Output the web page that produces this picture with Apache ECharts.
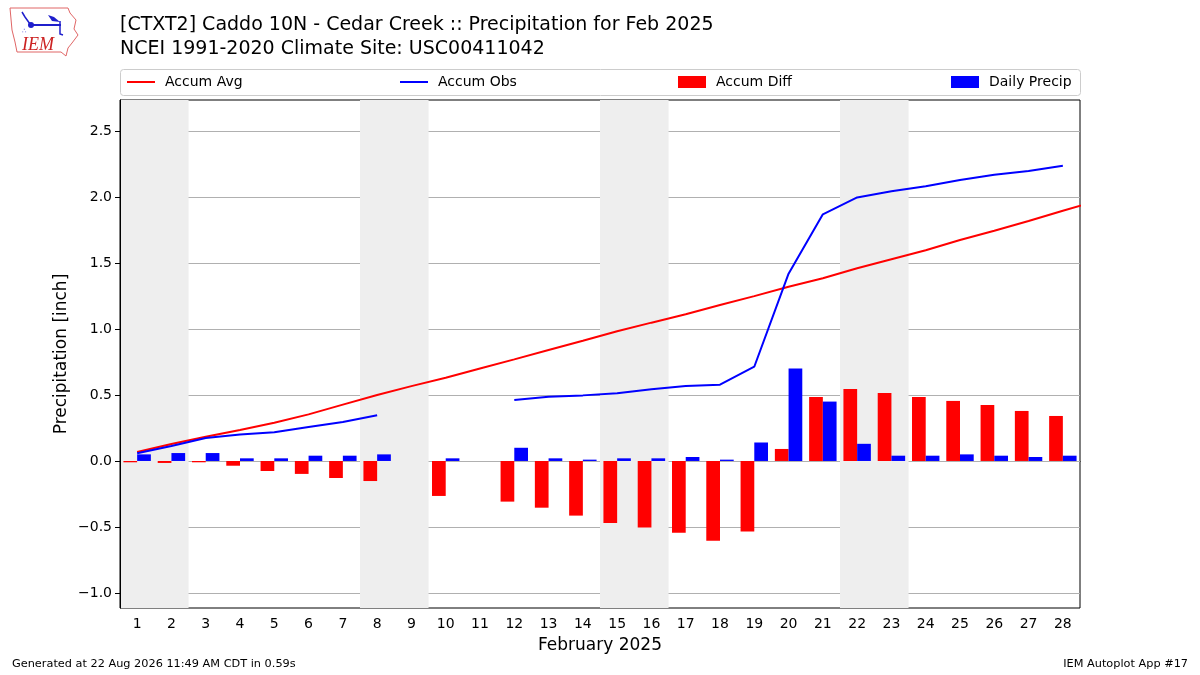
<!DOCTYPE html>
<html>
<head>
<meta charset="utf-8">
<script src="https://cdn.jsdelivr.net/npm/echarts@6/dist/echarts.min.js"></script>
<style>
  html, body { margin: 0; padding: 0; background: #fff; }
  #chart { width: 1200px; height: 675px; }
</style>
</head>
<body>
<div id="chart"></div>
<script>
// 日期 (Feb 2025)
var days = ['1','2','3','4','5','6','7','8','9','10','11','12','13','14',
            '15','16','17','18','19','20','21','22','23','24','25','26','27','28'];
// climatology accumulation, runs one day past the axis (day 29)
var accumAvg = [0.068, 0.129, 0.184, 0.235, 0.290, 0.353, 0.427, 0.500, 0.567, 0.630,
                0.700, 0.770, 0.841, 0.911, 0.983, 1.048, 1.111, 1.182, 1.249, 1.320,
                1.384, 1.460, 1.528, 1.596, 1.674, 1.745, 1.818, 1.896, 1.972];
var accumObs = [0.058, 0.114, 0.174, 0.200, 0.217, 0.257, 0.295, 0.346, null, null,
                null, 0.462, 0.487, 0.497, 0.513, 0.543, 0.568, 0.578, 0.714, 1.419,
                1.869, 1.997, 2.043, 2.081, 2.129, 2.169, 2.197, 2.237];
var accumDiff = [-0.010, -0.015, -0.010, -0.036, -0.076, -0.098, -0.129, -0.152, null, -0.265,
                 null, -0.308, -0.354, -0.414, -0.470, -0.505, -0.543, -0.604, -0.535, 0.091,
                 0.485, 0.545, 0.515, 0.485, 0.455, 0.424, 0.379, 0.341];
var dailyPrecip = [0.05, 0.06, 0.06, 0.02, 0.02, 0.04, 0.04, 0.05, null, 0.02,
                   null, 0.10, 0.02, 0.01, 0.02, 0.02, 0.03, 0.01, 0.14, 0.70,
                   0.45, 0.13, 0.04, 0.04, 0.05, 0.04, 0.03, 0.04];
var weekendDays = [1, 2, 8, 9, 15, 16, 22, 23];
var yTicks = [-1.0, -0.5, 0.0, 0.5, 1.0, 1.5, 2.0, 2.5];

var font = 'DejaVu Sans';

// 周末灰色区域
var weekendAreas = [];
for (var i = 0; i < weekendDays.length; i += 2) {
    weekendAreas.push([{ xAxis: weekendDays[i] - 0.5 }, { xAxis: weekendDays[i + 1] + 0.5 }]);
}

function toPairs(arr) {
    return arr.map(function(v, idx) {
        return [idx + 1, v === null ? '-' : v];
    });
}

function makeLegend(name, left, h) {
    return {
        left: left, top: 75, orient: 'horizontal', padding: 0,
        data: [{ name: name, icon: 'rect' }],
        itemWidth: 28, itemHeight: h,
        textStyle: { fontFamily: font, fontSize: 14, color: '#000', padding: [0, 0, 0, 5] },
        selectedMode: false
    };
}

var option = {
    animation: false,
    backgroundColor: '#fff',
    title: {
        text: '[CTXT2] Caddo 10N - Cedar Creek :: Precipitation for Feb 2025\nNCEI 1991-2020 Climate Site: USC00411042',
        left: 120, top: 13, padding: 0,
        textStyle: { fontFamily: font, fontSize: 19, fontWeight: 'normal', color: '#000', lineHeight: 24 }
    },
    legend: [
        makeLegend('Accum Avg', 127, 2),
        makeLegend('Accum Obs', 400, 2),
        makeLegend('Accum Diff', 678, 12),
        makeLegend('Daily Precip', 951, 12)
    ],
    grid: {
        left: 120, right: 120, top: 100, bottom: 67,
        show: true, borderColor: '#000', borderWidth: 1, backgroundColor: 'transparent'
    },
    xAxis: [{
        type: 'category',
        data: days,
        name: 'February 2025',
        nameLocation: 'middle',
        nameGap: 29,
        nameTextStyle: { fontFamily: font, fontSize: 17, color: '#000' },
        axisLine: { lineStyle: { color: '#000', width: 1 } },
        axisTick: { alignWithLabel: true, length: 5, lineStyle: { color: '#000' } },
        axisLabel: { fontFamily: font, fontSize: 14, color: '#000', margin: 9, interval: 0 },
        splitLine: { show: false }
    }, {
        type: 'value',
        min: 0.5, max: 28.5,
        show: false
    }],
    yAxis: {
        type: 'value',
        min: -1.114, max: 2.735,
        splitNumber: 8,
        z: 1,
        name: 'Precipitation [inch]',
        nameLocation: 'middle',
        nameGap: 50,
        nameMoveOverlap: false,
        nameTextStyle: { fontFamily: font, fontSize: 17, color: '#000' },
        axisLine: { show: true, lineStyle: { color: '#000', width: 1 } },
        axisTick: { show: true, length: 5, lineStyle: { color: '#000' }, customValues: yTicks },
        axisLabel: {
            fontFamily: font, fontSize: 14, color: '#000', margin: 8,
            customValues: yTicks,
            formatter: function(v) {
                var s = Math.abs(v).toFixed(1);
                return v < 0 ? '\u2212' + s : s;
            }
        },
        splitLine: { show: true, lineStyle: { color: '#b0b0b0', width: 1 } }
    },
    series: [{
        name: 'weekend',
        type: 'line',
        xAxisIndex: 1,
        data: [],
        z: 0,
        silent: true,
        markArea: {
            silent: true,
            itemStyle: { color: '#eeeeee' },
            data: weekendAreas
        }
    }, {
        name: 'Accum Diff',
        type: 'bar',
        xAxisIndex: 0,
        data: accumDiff,
        barWidth: '40%',
        barGap: '0%',
        itemStyle: { color: '#ff0000' },
        z: 2
    }, {
        name: 'Daily Precip',
        type: 'bar',
        xAxisIndex: 0,
        data: dailyPrecip,
        barWidth: '40%',
        barGap: '0%',
        itemStyle: { color: '#0000ff' },
        z: 2
    }, {
        name: 'Accum Avg',
        type: 'line',
        xAxisIndex: 1,
        data: toPairs(accumAvg),
        symbol: 'none',
        clip: true,
        lineStyle: { color: '#ff0000', width: 2 },
        itemStyle: { color: '#ff0000' },
        z: 3
    }, {
        name: 'Accum Obs',
        type: 'line',
        xAxisIndex: 1,
        data: toPairs(accumObs),
        symbol: 'none',
        connectNulls: false,
        clip: true,
        lineStyle: { color: '#0000ff', width: 2 },
        itemStyle: { color: '#0000ff' },
        z: 3
    }],
    graphic: [{
        // legend frame
        type: 'rect', z: -1,
        shape: { x: 120.5, y: 69.5, width: 960, height: 26, r: 3 },
        style: { fill: '#fff', stroke: '#cccccc', lineWidth: 1 }
    }, {
        // IEM logo
        type: 'polyline',
        shape: { points: [[10, 8], [68, 8], [70, 13], [76, 20], [74, 29], [78, 35], [72, 43],
                          [68, 48], [66, 56], [61, 52], [17, 52], [15, 42], [12, 30], [10, 8]] },
        style: { stroke: '#e06666', lineWidth: 1, fill: 'none' }
    }, {
        type: 'line', shape: { x1: 31, y1: 25, x2: 61, y2: 25 },
        style: { stroke: '#1f1fcc', lineWidth: 2 }
    }, {
        type: 'circle', shape: { cx: 31, cy: 25, r: 3 },
        style: { fill: '#1f1fcc' }
    }, {
        type: 'polyline', shape: { points: [[22, 12], [25, 17], [30, 24]] },
        style: { stroke: '#1f1fcc', lineWidth: 1.5, fill: 'none' }
    }, {
        type: 'polygon', shape: { points: [[48, 15], [54, 17], [60, 22], [52, 21]] },
        style: { fill: '#1f1fcc' }
    }, {
        type: 'polyline', shape: { points: [[60, 21], [60, 34], [63, 35]] },
        style: { stroke: '#1f1fcc', lineWidth: 1.5, fill: 'none' }
    }, {
        type: 'text', x: 22, y: 28,
        style: { text: '∴', fontFamily: font, fontSize: 7, fill: '#1f1fcc' }
    }, {
        type: 'text', x: 22, y: 36,
        style: { text: 'IEM', fontFamily: 'Liberation Serif', fontStyle: 'italic',
                 fontSize: 18, fill: '#cc2222' }
    }, {
        type: 'text', left: 12, top: 659,
        style: { text: 'Generated at 22 Aug 2026 11:49 AM CDT in 0.59s', fontFamily: font,
                 fontSize: 11.3, fill: '#000' }
    }, {
        type: 'text', right: 12, top: 659,
        style: { text: 'IEM Autoplot App #17', fontFamily: font, fontSize: 11.3, fill: '#000' }
    }]
};

var myChart = echarts.init(document.getElementById('chart'));
myChart.setOption(option);
</script>
</body>
</html>
